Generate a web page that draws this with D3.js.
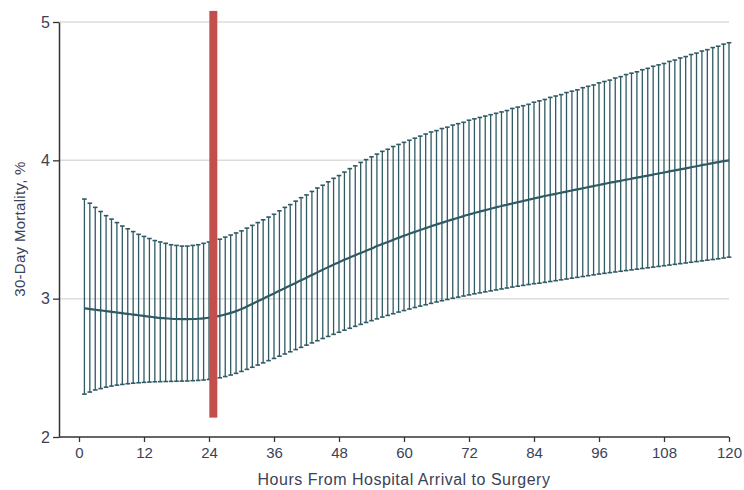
<!DOCTYPE html>
<html>
<head>
<meta charset="utf-8">
<script src="https://cdn.jsdelivr.net/npm/d3@7"></script>
<style>
  body { margin: 0; background: #fff; }
  text { font-family: "Liberation Sans", Arial, sans-serif; fill: #3b4257; }
</style>
</head>
<body>
<script>
// hours after arrival, one bar per hour
const hours = d3.range(1, 121);

// estimated 30-day mortality (%), hours 1..120
const meanPct = [
  2.93, 2.925, 2.92, 2.915, 2.91, 2.905, 2.90, 2.895, 2.89, 2.885,
  2.88, 2.875, 2.87, 2.865, 2.86, 2.858, 2.855, 2.853, 2.852, 2.852,
  2.853, 2.855, 2.858, 2.862, 2.868, 2.876, 2.886, 2.897, 2.91, 2.925,
  2.943, 2.962, 2.981, 3.00, 3.019, 3.038, 3.057, 3.076, 3.095, 3.114,
  3.133, 3.152, 3.171, 3.19, 3.209, 3.228, 3.246, 3.264, 3.281, 3.298,
  3.314, 3.33, 3.346, 3.362, 3.38, 3.395, 3.41, 3.425, 3.44, 3.455,
  3.469, 3.483, 3.497, 3.51, 3.523, 3.536, 3.549, 3.561, 3.573, 3.585,
  3.597, 3.608, 3.619, 3.63, 3.64, 3.65, 3.66, 3.67, 3.679, 3.688,
  3.697, 3.706, 3.715, 3.724, 3.733, 3.742, 3.75, 3.758, 3.766, 3.774,
  3.782, 3.79, 3.798, 3.806, 3.814, 3.822, 3.83, 3.838, 3.845, 3.852,
  3.86, 3.867, 3.875, 3.882, 3.89, 3.897, 3.905, 3.912, 3.92, 3.927,
  3.935, 3.942, 3.95, 3.957, 3.965, 3.972, 3.98, 3.987, 3.994, 4.00
];

const upperPct = [
  3.72, 3.69, 3.66, 3.63, 3.60, 3.575, 3.55, 3.525, 3.505, 3.485,
  3.465, 3.45, 3.435, 3.42, 3.41, 3.40, 3.39, 3.385, 3.38, 3.38,
  3.385, 3.39, 3.40, 3.41, 3.42, 3.43, 3.445, 3.46, 3.475, 3.49,
  3.51, 3.53, 3.55, 3.57, 3.59, 3.61, 3.635, 3.66, 3.68, 3.705,
  3.73, 3.75, 3.775, 3.80, 3.82, 3.845, 3.87, 3.89, 3.915, 3.94,
  3.96, 3.985, 4.005, 4.025, 4.045, 4.065, 4.08, 4.10, 4.115, 4.13,
  4.145, 4.16, 4.175, 4.19, 4.205, 4.215, 4.23, 4.24, 4.255, 4.265,
  4.275, 4.29, 4.30, 4.31, 4.32, 4.33, 4.34, 4.35, 4.36, 4.375,
  4.385, 4.395, 4.405, 4.42, 4.43, 4.44, 4.455, 4.465, 4.475, 4.49,
  4.50, 4.51, 4.525, 4.535, 4.545, 4.56, 4.57, 4.58, 4.595, 4.605,
  4.62, 4.63, 4.64, 4.655, 4.665, 4.68, 4.69, 4.70, 4.715, 4.725,
  4.74, 4.75, 4.765, 4.775, 4.79, 4.80, 4.815, 4.825, 4.84, 4.85
];

const lowerPct = [
  2.31, 2.325, 2.34, 2.35, 2.36, 2.368, 2.375, 2.38, 2.385, 2.389,
  2.392, 2.395, 2.397, 2.399, 2.40, 2.401, 2.402, 2.403, 2.404, 2.405,
  2.407, 2.409, 2.412, 2.416, 2.421, 2.428, 2.437, 2.448, 2.46, 2.474,
  2.489, 2.504, 2.52, 2.536, 2.552, 2.568, 2.584, 2.60, 2.616, 2.632,
  2.648, 2.664, 2.68, 2.696, 2.712, 2.727, 2.742, 2.757, 2.772, 2.786,
  2.80, 2.814, 2.828, 2.841, 2.854, 2.867, 2.879, 2.891, 2.903, 2.914,
  2.925, 2.936, 2.946, 2.956, 2.966, 2.976, 2.985, 2.994, 3.003, 3.011,
  3.019, 3.027, 3.035, 3.042, 3.049, 3.056, 3.063, 3.07, 3.077, 3.084,
  3.09, 3.096, 3.102, 3.108, 3.112, 3.118, 3.124, 3.13, 3.136, 3.142,
  3.148, 3.154, 3.16, 3.166, 3.172, 3.178, 3.183, 3.188, 3.193, 3.198,
  3.203, 3.208, 3.213, 3.218, 3.223, 3.228, 3.233, 3.238, 3.243, 3.248,
  3.253, 3.258, 3.263, 3.268, 3.273, 3.278, 3.283, 3.288, 3.294, 3.30
];

const xTicks = [0, 12, 24, 36, 48, 60, 72, 84, 96, 108, 120];
const yTicks = [2, 3, 4, 5];

// 24-hour marker (red bar)
const markerHour = 24.8;
const markerRange = [2.14, 5.08];

const data = hours.map((h, i) => ({ h: h, mean: meanPct[i], lo: lowerPct[i], hi: upperPct[i] }));

const width = 744, height = 490;
const svg = d3.select("body").append("svg")
  .attr("width", width)
  .attr("height", height);

const axisLeftX = 59;
const xScale = d3.scaleLinear().domain([0, 120]).range([79, 729]);
const yScale = d3.scaleLinear().domain([2, 5]).range([437, 22]);

const teal = "#2f5a64";

// gridlines
svg.append("g")
  .selectAll("line")
  .data(yTicks.filter(d => d > 2))
  .enter().append("line")
  .attr("x1", axisLeftX)
  .attr("x2", xScale(120))
  .attr("y1", d => yScale(d))
  .attr("y2", d => yScale(d))
  .attr("stroke", "#dcdcdc")
  .attr("stroke-width", 1.5);

// error bars
const bars = svg.append("g").attr("stroke", teal);

bars.selectAll(".bar")
  .data(data)
  .enter().append("line")
  .attr("class", "bar")
  .attr("x1", d => xScale(d.h))
  .attr("x2", d => xScale(d.h))
  .attr("y1", d => yScale(d.hi))
  .attr("y2", d => yScale(d.lo))
  .attr("stroke-width", 1.3);

const capW = 2.3;
bars.selectAll(".capTop")
  .data(data)
  .enter().append("line")
  .attr("class", "capTop")
  .attr("x1", d => xScale(d.h) - capW)
  .attr("x2", d => xScale(d.h) + capW)
  .attr("y1", d => yScale(d.hi))
  .attr("y2", d => yScale(d.hi))
  .attr("stroke-width", 1.6);

bars.selectAll(".capBot")
  .data(data)
  .enter().append("line")
  .attr("class", "capBot")
  .attr("x1", d => xScale(d.h) - capW)
  .attr("x2", d => xScale(d.h) + capW)
  .attr("y1", d => yScale(d.lo))
  .attr("y2", d => yScale(d.lo))
  .attr("stroke-width", 1.6);

// mean line
svg.append("path")
  .datum(data)
  .attr("fill", "none")
  .attr("stroke", teal)
  .attr("stroke-width", 2.2)
  .attr("d", d3.line().x(d => xScale(d.h)).y(d => yScale(d.mean)).curve(d3.curveMonotoneX));

// red marker
svg.append("rect")
  .attr("x", xScale(markerHour) - 4)
  .attr("width", 8)
  .attr("y", yScale(markerRange[1]))
  .attr("height", yScale(markerRange[0]) - yScale(markerRange[1]))
  .attr("fill", "#c24f4c");

// x axis
const xAxis = svg.append("g")
  .attr("transform", `translate(0, ${yScale(2)})`)
  .call(d3.axisBottom(xScale).tickValues(xTicks).tickFormat(d3.format("d")).tickSize(5).tickPadding(5).tickSizeOuter(0));
xAxis.select(".domain").remove();
xAxis.append("line")
  .attr("x1", axisLeftX).attr("x2", xScale(120))
  .attr("stroke", "#333").attr("stroke-width", 1.5);
xAxis.selectAll(".tick line").attr("stroke", "#333").attr("stroke-width", 1.3);
xAxis.selectAll(".tick text").style("font-size", "15px").attr("fill", "#3b4257");

// y axis
const yAxis = svg.append("g")
  .attr("transform", `translate(${axisLeftX}, 0)`)
  .call(d3.axisLeft(yScale).tickValues(yTicks).tickFormat(d3.format("d")).tickSize(6).tickPadding(3).tickSizeOuter(0));
yAxis.select(".domain").attr("stroke", "#333").attr("stroke-width", 1.5);
yAxis.selectAll(".tick line").attr("stroke", "#333").attr("stroke-width", 1.3);
yAxis.selectAll(".tick text").style("font-size", "16px").attr("fill", "#3b4257");

// axis titles
svg.append("text")
  .attr("x", 404)
  .attr("y", 485)
  .attr("text-anchor", "middle")
  .style("font-size", "16px")
  .style("letter-spacing", "0.5px")
  .text("Hours From Hospital Arrival to Surgery");

svg.append("text")
  .attr("transform", "rotate(-90)")
  .attr("x", -229)
  .attr("y", 25)
  .attr("text-anchor", "middle")
  .style("font-size", "15px")
  .style("letter-spacing", "0.3px")
  .text("30-Day Mortality, %");
</script>
</body>
</html>
